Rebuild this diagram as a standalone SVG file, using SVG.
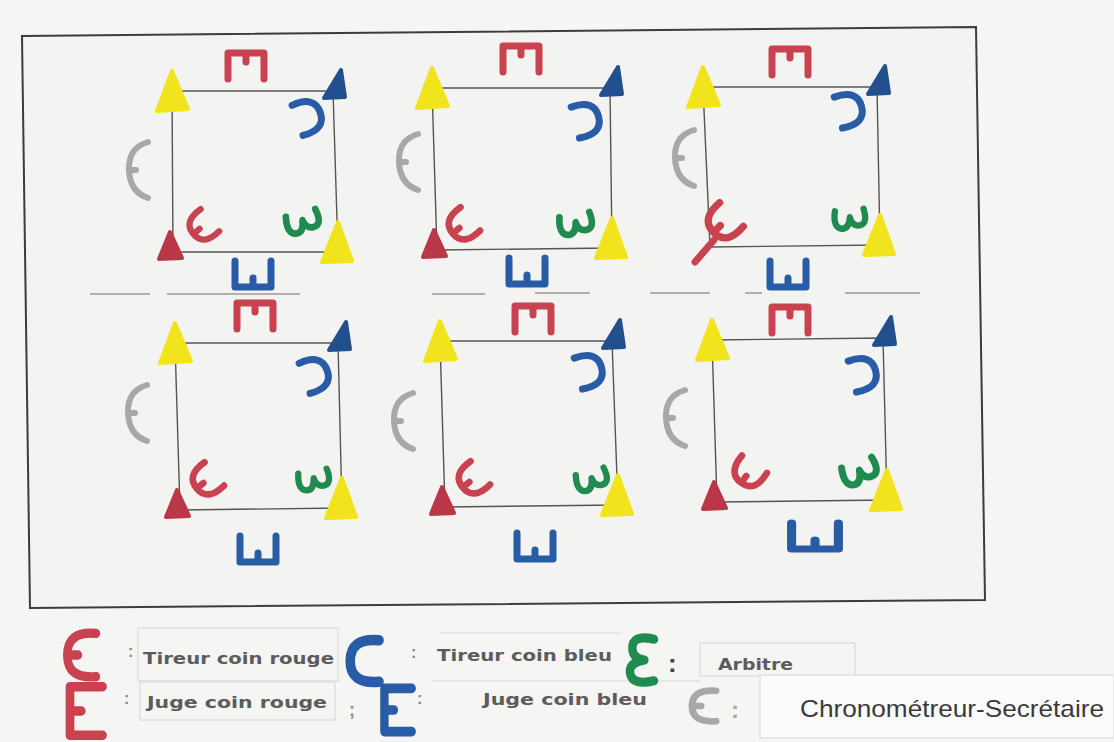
<svg xmlns="http://www.w3.org/2000/svg" width="1114" height="742" viewBox="0 0 1114 742">
<style>
.sq{fill:none;stroke:#555;stroke-width:1.4}
.mk{fill:none;stroke-width:7;stroke-linecap:round;stroke-linejoin:round}
.red{stroke:#c94250}
.blue{stroke:#285ca6}
.green{stroke:#1f8b4e}
.grey{stroke:#a8a8a8}
.tri{stroke-width:4;stroke-linejoin:round}
.ty{fill:#f1e31c;stroke:#f1e31c}
.tb{fill:#22508f;stroke:#22508f}
.tr{fill:#b93747;stroke:#b93747}
.lbl{font-family:"DejaVu Sans","Liberation Sans",sans-serif;font-weight:bold;font-size:16px;fill:#5c5c5c}
.col{font-family:"Liberation Sans",sans-serif;font-weight:bold;fill:#8a8a8a}
.box{fill:none;stroke:#dadada;stroke-width:1.2}
.dash{stroke:#9a9a9a;stroke-width:1.5}
</style>
<defs>
<path id="E" d="M14 -18 H-12 V18 H14 M-12 0 H-3"/>
<path id="C" d="M10 -16 Q-14 -18 -14 0 Q-14 18 10 16"/>
<path id="EU" d="M10 -16 Q-14 -18 -14 0 Q-14 18 10 16 M-14 0 H-5"/>
<path id="EP" d="M-10 -16 Q9 -20 8 -8 Q7 -1 -2 0 Q11 2 10 10 Q8 20 -10 16"/>
<path id="GR" d="M8 -28 Q-12 -22 -11 0 Q-10 22 8 28 M-11 0 H-4"/>
<polygon id="tTL" points="0,-20 16,18 -15,20"/>
<polygon id="tTR" points="8,-21 12,6 -9,7"/>
<polygon id="tBL" points="-3,-20 9,6 -14,7"/>
<polygon id="tBR" points="0,-30 14,9 -16,10"/>
</defs>
<rect width="1114" height="742" fill="#f5f5f3"/>
<polygon points="22,36 976,27 985,600 30,608" fill="#f3f3f1" stroke="#3c3c3c" stroke-width="2"/>

<g id="divider">
<line class="dash" x1="90" y1="294" x2="150" y2="294"/>
<line class="dash" x1="167" y1="294" x2="300" y2="294"/>
<line class="dash" x1="432" y1="294" x2="485" y2="294"/>
<line class="dash" x1="535" y1="293" x2="590" y2="293"/>
<line class="dash" x1="650" y1="293" x2="710" y2="293"/>
<line class="dash" x1="745" y1="293" x2="762" y2="293"/>
<line class="dash" x1="845" y1="293" x2="920" y2="293"/>
</g>

<g id="ring1">
<polygon class="sq" points="172,91 333,91 338,252 173,252"/>
<use href="#tTL" class="tri ty" x="172" y="91"/>
<use href="#tTR" class="tri tb" x="333" y="91"/>
<use href="#tBL" class="tri tr" x="173" y="252"/>
<use href="#tBR" class="tri ty" x="338" y="252"/>
<use href="#E" class="mk red" transform="translate(246,65) rotate(90)"/>
<use href="#E" class="mk blue" transform="translate(253,275) rotate(-90)"/>
<use href="#C" class="mk blue" transform="translate(307,117) rotate(160)"/>
<use href="#EU" class="mk red" transform="translate(203,226) rotate(-40) scale(0.9)"/>
<use href="#EP" class="mk green" transform="translate(303,222) rotate(75) scale(0.95)"/>
<use href="#GR" class="mk grey" style="stroke-width:6" transform="translate(140,170)"/>
</g>

<g id="ring2">
<polygon class="sq" points="432,88 610,88 612,248 437,250"/>
<use href="#tTL" class="tri ty" x="432" y="88"/>
<use href="#tTR" class="tri tb" x="610" y="88"/>
<use href="#tBL" class="tri tr" x="437" y="250"/>
<use href="#tBR" class="tri ty" x="612" y="248"/>
<use href="#E" class="mk red" transform="translate(521,58) rotate(90)"/>
<use href="#E" class="mk blue" transform="translate(527,272) rotate(-90)"/>
<use href="#C" class="mk blue" transform="translate(585,120) rotate(165)"/>
<use href="#EU" class="mk red" transform="translate(463,225) rotate(-40) scale(0.95)"/>
<use href="#EP" class="mk green" transform="translate(576,224) rotate(80) scale(0.95)"/>
<use href="#GR" class="mk grey" style="stroke-width:6" transform="translate(410,162)"/>
</g>

<g id="ring3">
<polygon class="sq" points="703,87 877,87 880,245 710,247"/>
<use href="#tTL" class="tri ty" x="703" y="87"/>
<use href="#tTR" class="tri tb" x="877" y="87"/>
<use href="#tBR" class="tri ty" x="880" y="245"/>
<use href="#E" class="mk red" transform="translate(790,61) rotate(90)"/>
<use href="#E" class="mk blue" transform="translate(788,275) rotate(-90)"/>
<use href="#C" class="mk blue" transform="translate(848,110) rotate(165)"/>
<use href="#EU" class="mk red" transform="translate(724,222) rotate(-45) scale(1.05)"/>
<path class="mk red" d="M714 240 L695 262"/>
<use href="#EP" class="mk green" transform="translate(850,219) rotate(85) scale(0.9)"/>
<use href="#GR" class="mk grey" style="stroke-width:6" transform="translate(686,158)"/>
</g>

<g id="ring4">
<polygon class="sq" points="175,343 338,343 342,508 180,510"/>
<use href="#tTL" class="tri ty" x="175" y="343"/>
<use href="#tTR" class="tri tb" x="338" y="343"/>
<use href="#tBL" class="tri tr" x="180" y="510"/>
<use href="#tBR" class="tri ty" x="342" y="508"/>
<use href="#E" class="mk red" transform="translate(255,315) rotate(90)"/>
<use href="#E" class="mk blue" transform="translate(258,550) rotate(-90)"/>
<use href="#C" class="mk blue" transform="translate(314,375) rotate(160)"/>
<use href="#EU" class="mk red" transform="translate(207,480) rotate(-40) scale(0.95)"/>
<use href="#EP" class="mk green" transform="translate(314,480) rotate(80) scale(0.9)"/>
<use href="#GR" class="mk grey" style="stroke-width:6" transform="translate(139,413)"/>
</g>

<g id="ring5">
<polygon class="sq" points="440,341 612,341 618,505 445,507"/>
<use href="#tTL" class="tri ty" x="440" y="341"/>
<use href="#tTR" class="tri tb" x="612" y="341"/>
<use href="#tBL" class="tri tr" x="445" y="507"/>
<use href="#tBR" class="tri ty" x="618" y="505"/>
<use href="#E" class="mk red" transform="translate(533,318) rotate(90)"/>
<use href="#E" class="mk blue" transform="translate(535,547) rotate(-90)"/>
<use href="#C" class="mk blue" transform="translate(588,371) rotate(165)"/>
<use href="#EU" class="mk red" transform="translate(473,479) rotate(-40) scale(0.95)"/>
<use href="#EP" class="mk green" transform="translate(592,480) rotate(75) scale(0.9)"/>
<use href="#GR" class="mk grey" style="stroke-width:6" transform="translate(405,421)"/>
</g>

<g id="ring6">
<polygon class="sq" points="712,340 883,338 887,500 717,502"/>
<use href="#tTL" class="tri ty" x="712" y="340"/>
<use href="#tTR" class="tri tb" x="883" y="338"/>
<use href="#tBL" class="tri tr" x="717" y="502"/>
<use href="#tBR" class="tri ty" x="887" y="500"/>
<use href="#E" class="mk red" transform="translate(790,319) rotate(90)"/>
<use href="#E" class="mk blue" transform="translate(815,537) rotate(-90) scale(1,1.3)"/>
<use href="#C" class="mk blue" transform="translate(862,374) rotate(165)"/>
<use href="#EU" class="mk red" transform="translate(749,472) rotate(-55) scale(0.95)"/>
<use href="#EP" class="mk green" transform="translate(860,472) rotate(70) scale(1)"/>
<use href="#GR" class="mk grey" style="stroke-width:6" transform="translate(677,418)"/>
</g>

<g id="legend">
<rect class="box" x="138" y="628" width="200" height="53"/>
<rect class="box" x="140" y="682" width="195" height="38"/>
<line class="box" x1="440" y1="633" x2="622" y2="633"/>
<line class="box" x1="432" y1="681" x2="700" y2="681"/>
<rect class="box" x="700" y="643" width="155" height="33"/>
<rect x="760" y="675" width="354" height="63" fill="#fbfbfb" stroke="#dcdcdc" stroke-width="1.2"/>

<use href="#EU" class="mk red" transform="translate(84,655) scale(1.2,1.35)"/>
<text class="col" x="128" y="657" font-size="16">:</text>
<text class="lbl" x="143" y="664" textLength="191" lengthAdjust="spacingAndGlyphs">Tireur coin rouge</text>

<use href="#C" class="mk blue" style="stroke-width:8" transform="translate(367,661) scale(1.2,1.3)"/>
<text class="col" x="411" y="658" font-size="16">:</text>
<text class="lbl" x="437" y="661" textLength="175" lengthAdjust="spacingAndGlyphs">Tireur coin bleu</text>

<use href="#EP" class="mk green" transform="translate(642,660) scale(-1.2,1.3)"/>
<text x="668" y="672" font-family="Liberation Sans,sans-serif" font-weight="bold" font-size="26" fill="#444">:</text>
<text class="lbl" x="718" y="670" textLength="75" lengthAdjust="spacingAndGlyphs">Arbitre</text>

<use href="#E" class="mk red" transform="translate(85,711) scale(1.25,1.35)"/>
<text class="col" x="124" y="704" font-size="16">:</text>
<text class="lbl" x="147" y="708" textLength="180" lengthAdjust="spacingAndGlyphs">Juge coin rouge</text>
<text class="col" x="349" y="716" font-size="18">;</text>

<use href="#E" class="mk blue" style="stroke-width:8" transform="translate(397,710) scale(1.05,1.2)"/>
<text class="col" x="417" y="704" font-size="16">:</text>
<text class="lbl" x="483" y="705" textLength="164" lengthAdjust="spacingAndGlyphs">Juge coin bleu</text>

<use href="#EU" class="mk grey" transform="translate(706,706) scale(1,0.95)"/>
<text x="731" y="718" font-family="Liberation Sans,sans-serif" font-weight="bold" font-size="24" fill="#a8a8a8">:</text>
<text x="800" y="717" font-family="Liberation Sans,Arial,sans-serif" font-size="24" fill="#3a3a3a" textLength="304" lengthAdjust="spacingAndGlyphs">Chronométreur-Secrétaire</text>
</g>
</svg>
